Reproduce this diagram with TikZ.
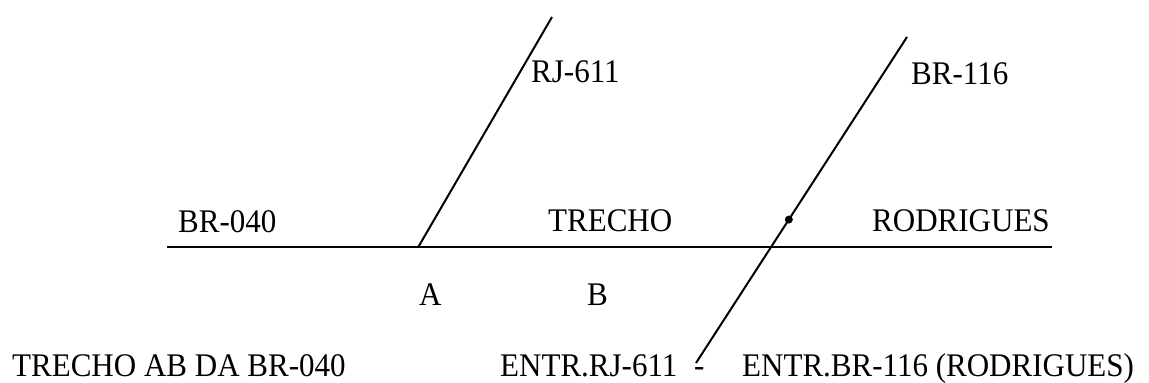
\documentclass[tikz,border=0pt]{standalone}
\usepackage{fontspec}
\usepackage{graphicx}
\setmainfont{Liberation Serif}
\usetikzlibrary{calc}
\newcommand{\cond}[1]{\scalebox{0.94}[1]{#1}}
\begin{document}
\begin{tikzpicture}[x=1pt,y=1pt,
  lbl/.style={anchor=base west,inner sep=0pt,font=\fontsize{33}{33}\selectfont},
  road/.style={line width=2pt,black}]
\useasboundingbox (0,0) rectangle (1149,383);
% coordinates (y = 383 - image y)
\coordinate (hL) at (167,135.5);
\coordinate (hR) at (1052,135.5);
\coordinate (A0) at (418,135.5);
\coordinate (A1) at (552,366);
\coordinate (B0) at (696,20);
\coordinate (B1) at (907,346);
\draw[road] (hL) -- (hR);
\draw[road] (A0) -- (A1);
\draw[road] (B0) -- (B1);
\fill ($(B0)!0.44!(B1)$) circle (4pt);
% labels
\node[lbl] (rj) at (531,300) {\cond{RJ-611}};
\node[lbl] (br116) at (911,298) {\cond{BR-116}};
\node[lbl] (br040) at (178,150) {\cond{BR-040}};
\node[lbl] (trecho) at (548,151) {\cond{TRECHO}};
\node[lbl] (rod) at (872,151) {\cond{RODRIGUES}};
\node[lbl] (a) at (419,77) {\cond{A}};
\node[lbl] (b) at (587,77) {\cond{B}};
\node[lbl] (t1) at (12,6) {\cond{TRECHO AB DA BR-040}};
\node[lbl] (t2) at (500,6) {\cond{ENTR.RJ-611}};
\node[lbl] (t3) at (694,6) {\cond{-}};
\node[lbl] (t4) at (742,6) {\cond{ENTR.BR-116 (RODRIGUES)}};
\end{tikzpicture}
\end{document}
